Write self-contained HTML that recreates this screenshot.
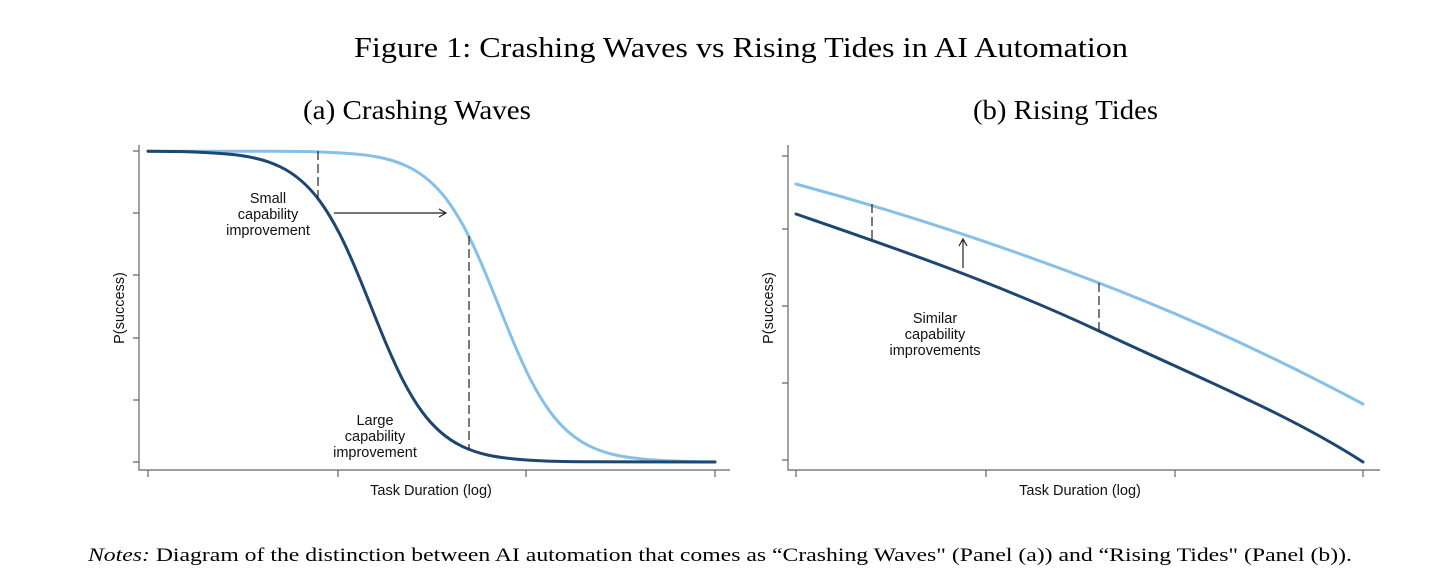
<!DOCTYPE html>
<html><head><meta charset="utf-8"><style>
body{margin:0;background:#fff;}
svg{display:block}
</style></head><body>
<svg width="1438" height="583" viewBox="0 0 1438 583" xmlns="http://www.w3.org/2000/svg">
<rect width="1438" height="583" fill="#fff"/>
<text x="354" y="57" textLength="774" lengthAdjust="spacingAndGlyphs" font-family="Liberation Serif, serif" font-size="29">Figure 1: Crashing Waves vs Rising Tides in AI Automation</text>
<text x="303" y="119" textLength="228" lengthAdjust="spacingAndGlyphs" font-family="Liberation Serif, serif" font-size="27">(a) Crashing Waves</text>
<text x="973" y="119" textLength="185" lengthAdjust="spacingAndGlyphs" font-family="Liberation Serif, serif" font-size="27">(b) Rising Tides</text>
<g stroke="#666" stroke-width="1.2" fill="none">
<path d="M139 145V470H730"/>
<path d="M133 151H139M133 213H139M133 275H139M133 338H139M133 400H139M133 462H139"/>
<path d="M148 470V477M338 470V477M526 470V477M715 470V477"/>
<path d="M788 145V470H1380"/>
<path d="M782 156H788M782 229H788M782 306H788M782 383H788M782 460H788"/>
<path d="M796 470V477M986 470V477M1175 470V477M1363 470V477"/>
</g>
<g font-family="Liberation Sans, sans-serif" font-size="14.5" fill="#111" text-anchor="middle">
<text x="431" y="495">Task Duration (log)</text>
<text x="1080" y="495">Task Duration (log)</text>
<text transform="translate(124,308) rotate(-90)">P(success)</text>
<text transform="translate(773,308) rotate(-90)">P(success)</text>
<text x="268" y="203">Small</text>
<text x="268" y="219">capability</text>
<text x="268" y="235">improvement</text>
<text x="375" y="425">Large</text>
<text x="375" y="441">capability</text>
<text x="375" y="457">improvement</text>
<text x="935" y="323">Similar</text>
<text x="935" y="339">capability</text>
<text x="935" y="355">improvements</text>
</g>
<g fill="none" stroke-width="3" stroke-linejoin="round" stroke-linecap="round">
<path stroke="#86c0e9" d="M148 151.2 L276 151.2 C303.3 151.2 330.7 151.5 358 154.3 C374.7 156 391.3 158.7 408 166.7 C421.3 173.1 434.7 183.2 448 201.3 C454.7 210.4 461.3 221.5 468 234.6 C473 244.5 478 255.6 483 267.3 C488.3 279.8 493.7 293.1 499 306.5 C504.3 319.9 509.7 333.2 515 345.7 C520 357.4 525 368.5 530 378.4 C536.7 391.5 543.3 402.6 550 411.7 C563.3 429.8 576.7 439.9 590 446.3 C606.7 454.3 623.3 457 640 458.7 C667.3 461.5 694.7 461.8 715 461.9"/>
<path stroke="#1d4670" d="M148 151.2 C175.3 151.2 202.7 151.5 230 154.3 C246.7 156 263.3 158.7 280 166.7 C293.3 173.1 306.7 183.2 320 201.3 C326.7 210.4 333.3 221.5 340 234.6 C345 244.5 350 255.6 355 267.3 C360.3 279.8 365.7 293.1 371 306.5 C376.3 319.9 381.7 333.2 387 345.7 C392 357.4 397 368.5 402 378.4 C408.7 391.5 415.3 402.6 422 411.7 C435.3 429.8 448.7 439.9 462 446.3 C478.7 454.3 495.3 457 512 458.7 C539.3 461.5 566.7 461.8 594 461.8 L715 462"/>
<path stroke="#86c0e9" d="M796 184 C900 212 1000 245 1099 283 S1290 365 1363 404"/>
<path stroke="#1d4670" d="M796 214 C880 243 990 280 1099 331 S1290 415 1363 462"/>
</g>
<g stroke="#222" stroke-width="1.2" fill="none" stroke-dasharray="9,4">
<path d="M318 151V198"/>
<path d="M469 236V449"/>
<path d="M872 204V240"/>
<path d="M1099 283V331"/>
</g>
<g stroke="#222" stroke-width="1.2" fill="none">
<path d="M334 213H446M439 209L446 213L439 217"/>
<path d="M963 268V239M959 246L963 239L967 246"/>
</g>
<text x="88" y="561" textLength="1264" lengthAdjust="spacingAndGlyphs" font-family="Liberation Serif, serif" font-size="19"><tspan font-style="italic">Notes:</tspan> Diagram of the distinction between AI automation that comes as “Crashing Waves" (Panel (a)) and “Rising Tides" (Panel (b)).</text>
</svg>
</body></html>
